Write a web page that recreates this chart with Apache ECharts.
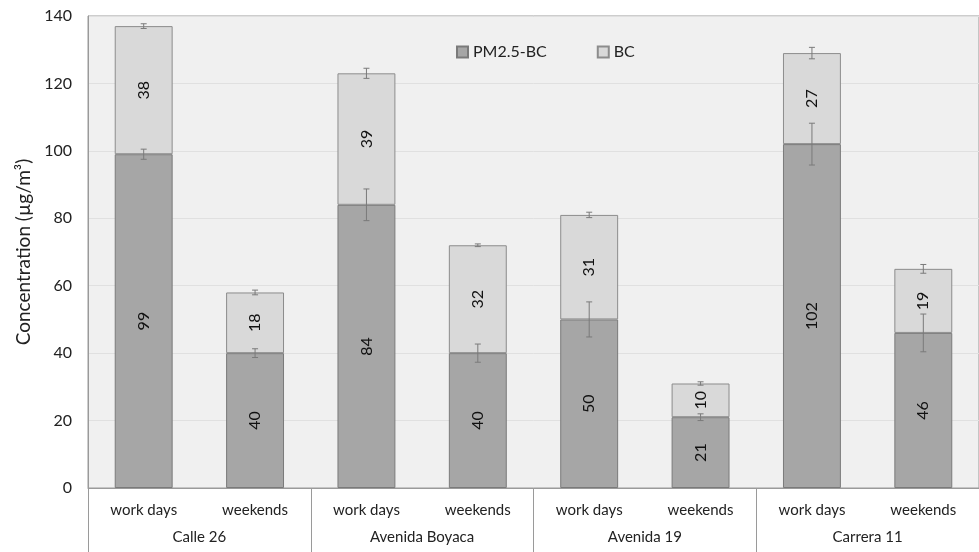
<!DOCTYPE html>
<html>
<head>
<meta charset="utf-8">
<script src="https://cdn.jsdelivr.net/npm/echarts@6/dist/echarts.min.js"></script>
<style>
  html, body { margin: 0; padding: 0; background: #ffffff; }
  #chart { width: 979px; height: 552px; }
</style>
</head>
<body>
<div id="chart"></div>
<script>
// Sites and the two day types measured at each
const sites = ['Calle 26', 'Avenida Boyaca', 'Avenida 19', 'Carrera 11'];
const dayTypes = ['work days', 'weekends', 'work days', 'weekends', 'work days', 'weekends', 'work days', 'weekends'];

// Mean concentrations (µg/m³)
const pmMinusBC = [99, 40, 84, 40, 50, 21, 102, 46];
const bc = [38, 18, 39, 32, 31, 10, 27, 19];

// Error bar half-lengths (µg/m³): on the PM2.5-BC top and on the stacked total
const pmErr = [1.5, 1.3, 4.7, 2.7, 5.2, 1.0, 6.2, 5.6];
const totalErr = [0.7, 0.7, 1.5, 0.4, 0.8, 0.5, 1.7, 1.3];

const yTicks = { min: 0, max: 140, interval: 20 };

const FONT = 'Lato, "Open Sans", sans-serif';

const pmTop = pmMinusBC.map(v => v);
const totals = pmMinusBC.map((v, i) => v + bc[i]);

function errorBar(centers, errs) {
  return centers.map((c, i) => [i, c - errs[i], c + errs[i]]);
}

function renderError(params, api) {
  const x = api.value(0);
  const lo = api.coord([x, api.value(1)]);
  const hi = api.coord([x, api.value(2)]);
  const cap = 3;
  const style = { stroke: '#7a7a7a', lineWidth: 1 };
  return {
    type: 'group',
    children: [
      { type: 'line', shape: { x1: hi[0], y1: hi[1], x2: lo[0], y2: lo[1] }, style },
      { type: 'line', shape: { x1: hi[0] - cap, y1: hi[1], x2: hi[0] + cap, y2: hi[1] }, style },
      { type: 'line', shape: { x1: lo[0] - cap, y1: lo[1], x2: lo[0] + cap, y2: lo[1] }, style }
    ]
  };
}

const barLabel = {
  show: true,
  position: 'inside',
  rotate: 90,
  color: '#111',
  fontFamily: FONT,
  fontSize: 16
};

const chart = echarts.init(document.getElementById('chart'), null, { renderer: 'canvas' });

chart.setOption({
  animation: false,
  backgroundColor: '#ffffff',
  grid: {
    left: 88,
    top: 16,
    width: 900,
    bottom: 64,
    show: true,
    backgroundColor: '#f0f0f0',
    borderColor: '#9a9a9a',
    borderWidth: 1
  },
  legend: {
    left: 451,
    top: 39,
    itemWidth: 11,
    itemHeight: 11,
    itemGap: 50,
    icon: 'rect',
    textStyle: { fontFamily: FONT, fontSize: 16, color: '#222' },
    data: ['PM2.5-BC', 'BC']
  },
  xAxis: [
    {
      type: 'category',
      data: dayTypes,
      position: 'bottom',
      axisLine: { show: true, lineStyle: { color: '#9a9a9a' } },
      axisTick: { show: false },
      axisLabel: { fontFamily: FONT, fontSize: 15, color: '#222', margin: 15 },
      splitLine: { show: false }
    },
    {
      type: 'category',
      data: sites,
      position: 'bottom',
      axisLine: { show: false },
      axisTick: { show: true, length: 66, inside: false, lineStyle: { color: '#9a9a9a' } },
      axisLabel: { fontFamily: FONT, fontSize: 15, color: '#222', margin: 42 },
      splitLine: { show: false }
    }
  ],
  yAxis: {
    type: 'value',
    min: yTicks.min,
    max: yTicks.max,
    interval: yTicks.interval,
    name: 'Concentration (µg/m³)',
    nameLocation: 'middle',
    nameGap: 55,
    nameTextStyle: { fontFamily: FONT, fontSize: 19, color: '#222' },
    axisLine: { show: true, lineStyle: { color: '#9a9a9a' } },
    axisTick: { show: false },
    axisLabel: { fontFamily: FONT, fontSize: 16, color: '#222', margin: 16 },
    splitLine: { show: true, lineStyle: { color: '#e0e0e0' } }
  },
  series: [
    {
      name: 'PM2.5-BC',
      type: 'bar',
      stack: 'pm',
      xAxisIndex: 0,
      barWidth: '52%',
      data: pmMinusBC,
      itemStyle: { color: '#a6a6a6', borderColor: '#7a7a7a', borderWidth: 1 },
      label: barLabel
    },
    {
      name: 'BC',
      type: 'bar',
      stack: 'pm',
      xAxisIndex: 0,
      barWidth: '52%',
      data: bc,
      itemStyle: { color: '#d9d9d9', borderColor: '#8c8c8c', borderWidth: 1 },
      label: barLabel
    },
    {
      type: 'custom',
      xAxisIndex: 0,
      renderItem: renderError,
      data: errorBar(pmTop, pmErr),
      z: 10,
      silent: true
    },
    {
      type: 'custom',
      xAxisIndex: 0,
      renderItem: renderError,
      data: errorBar(totals, totalErr),
      z: 10,
      silent: true
    }
  ]
});
</script>
</body>
</html>
